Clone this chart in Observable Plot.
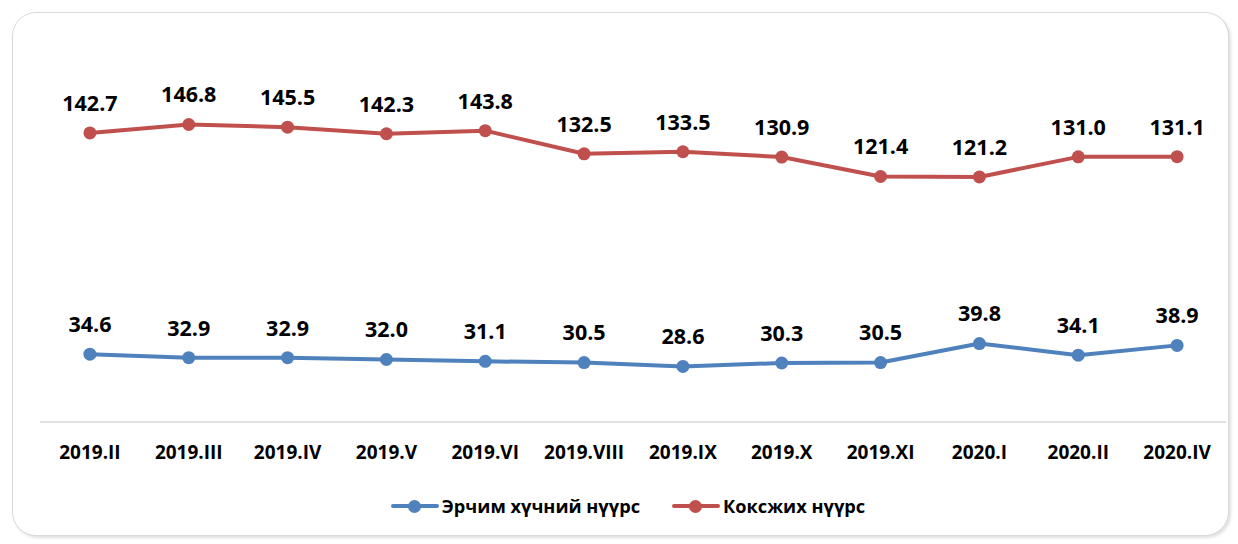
<!DOCTYPE html>
<html>
<head>
<meta charset="utf-8">
<script src="https://cdn.jsdelivr.net/npm/d3@7"></script>
<script src="https://cdn.jsdelivr.net/npm/@observablehq/plot@0.6"></script>
<style>
  html, body { margin: 0; padding: 0; background: #fff; }
  body { width: 1238px; height: 544px; position: relative; overflow: hidden; font-family: "Open Sans", sans-serif; }
  #card { position: absolute; left: 12px; top: 12px; width: 1215px; height: 522px; border: 1.5px solid #d9d9d9; border-radius: 24px; box-shadow: 2px 2px 3px rgba(0,0,0,0.12); background: #fff; }
  #chart { position: absolute; left: 0; top: 0; }
  #legend { position: absolute; left: 9px; top: 494px; width: 1238px; display: flex; justify-content: center; gap: 32px; font-weight: 700; font-size: 18.2px; color: #000; }
  .item { display: flex; align-items: center; }
  .sw { position: relative; width: 48px; height: 16px; margin-right: 3px; }
  .sw .ln { position: absolute; left: 0; right: 0; top: 6px; height: 4px; border-radius: 2px; }
  .sw .dt { position: absolute; left: 17px; top: 1.5px; width: 13px; height: 13px; border-radius: 50%; }
</style>
</head>
<body>
<div id="card"></div>
<div id="chart"></div>
<div id="legend"></div>
<script>
const periods = ["2019.II","2019.III","2019.IV","2019.V","2019.VI","2019.VIII","2019.IX","2019.X","2019.XI","2020.I","2020.II","2020.IV"];
const energyCoal = [34.6,32.9,32.9,32.0,31.1,30.5,28.6,30.3,30.5,39.8,34.1,38.9];
const cokingCoal = [142.7,146.8,145.5,142.3,143.8,132.5,133.5,130.9,121.4,121.2,131.0,131.1];
const seriesNames = ["Эрчим хүчний нүүрс","Коксжих нүүрс"];
const seriesColors = ["#4f81bd","#c0504d"];

const rows = [];
[energyCoal, cokingCoal].forEach((vals, s) => {
  vals.forEach((v, i) => rows.push({period: periods[i], value: v, series: seriesNames[s]}));
});

const chart = Plot.plot({
  width: 1238,
  height: 544,
  marginLeft: 40,
  marginRight: 12,
  marginTop: 97,
  marginBottom: 119.5,
  style: {fontFamily: "'Open Sans', sans-serif", background: "transparent"},
  x: {type: "point", domain: periods, padding: 0.5, round: false, label: null},
  y: {domain: [0, 160], axis: null},
  color: {domain: seriesNames, range: seriesColors},
  marks: [
    Plot.ruleY([0], {stroke: "#d9d9d9", strokeWidth: 1.5, dy: -3}),
    Plot.axisX({tickSize: 0, tickPadding: 20, fontSize: 19, fontWeight: 700, fill: "#000", label: null}),
    Plot.line(rows, {x: "period", y: "value", z: "series", stroke: "series", strokeWidth: 4, strokeLinejoin: "round", strokeLinecap: "round"}),
    Plot.dot(rows, {x: "period", y: "value", fill: "series", r: 6.5}),
    Plot.text(rows, {x: "period", y: "value", text: d => d.value.toFixed(1), dy: -29, fontSize: 21.5, fontWeight: 700, fill: "#000"})
  ]
});
document.getElementById("chart").appendChild(chart);

const legend = document.getElementById("legend");
seriesNames.forEach((name, i) => {
  const item = document.createElement("div");
  item.className = "item";
  item.innerHTML = `<div class="sw"><div class="ln" style="background:${seriesColors[i]}"></div><div class="dt" style="background:${seriesColors[i]}"></div></div><span>${name}</span>`;
  legend.appendChild(item);
});
</script>
</body>
</html>
